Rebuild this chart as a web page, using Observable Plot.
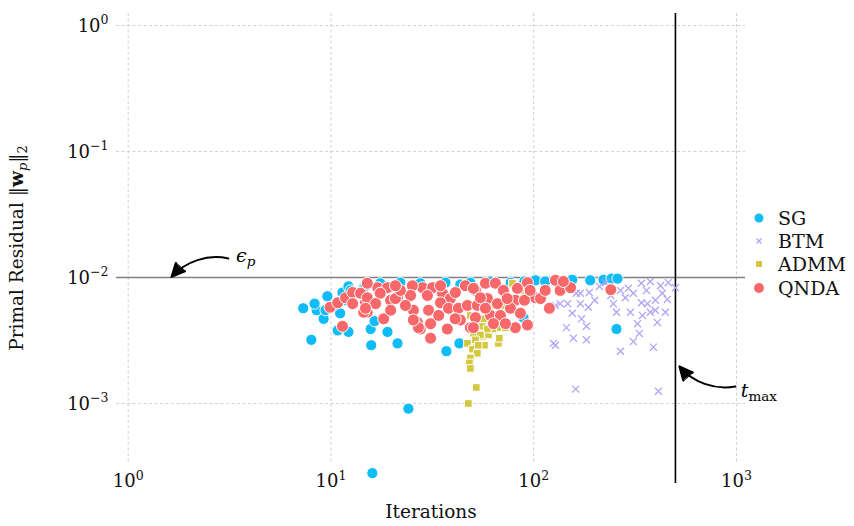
<!DOCTYPE html>
<html><head><meta charset="utf-8">
<script src="https://cdn.jsdelivr.net/npm/d3@7"></script>
<script src="https://cdn.jsdelivr.net/npm/@observablehq/plot@0.6"></script>
<style>
body{margin:0;background:#fff;}
#wrap{position:relative;width:854px;height:526px;font-family:"DejaVu Serif",serif;color:#111;}
#xlabel{position:absolute;left:0;width:862px;top:501px;text-align:center;font-size:18.5px;}
#ylabel{position:absolute;left:18px;top:248px;transform:translate(-50%,-50%) rotate(-90deg);white-space:nowrap;font-size:18.5px;}
#legend{position:absolute;left:747px;top:202px;width:107px;height:100px;background:#fff;}
.row{position:absolute;left:0;height:24px;display:flex;align-items:center;font-size:19px;}
.row svg{margin-left:6px;margin-right:13px;}
</style></head><body><div id="wrap"></div>
<script>
// ---- data ----
const sgIter = [7.3, 8.0, 8.5, 8.3, 9.2, 9.6, 11.1, 11.4, 12.2, 12.5, 10.8, 12.2, 15.7, 16.4, 19.0, 15.8, 21.3, 24.1, 16.0, 37.1, 43.0, 102, 114, 190, 221, 242, 259, 256, 89, 155, 11.8, 14.5, 9.4, 10.3, 17.5, 22, 27.6, 36.7, 48.7, 61, 77, 90, 43.5, 13.2, 14.8];
const sgRes = [0.0057, 0.0032, 0.0055, 0.0062, 0.0047, 0.0071, 0.0052, 0.0076, 0.0085, 0.0079, 0.0038, 0.0037, 0.0039, 0.0045, 0.0037, 0.0029, 0.0030, 0.00091, 0.00028, 0.0026, 0.0030, 0.0095, 0.0093, 0.0095, 0.0096, 0.0098, 0.0098, 0.0039, 0.0048, 0.0096, 0.0066, 0.0083, 0.0055, 0.0060, 0.0090, 0.0091, 0.0090, 0.0091, 0.0091, 0.0093, 0.0091, 0.0093, 0.0088, 0.0076, 0.0086];

const btmIter = [188, 162, 147, 155, 170, 172, 145, 182, 157, 182, 161, 211, 247, 256, 268, 283, 300, 310, 325, 332, 310, 268, 344, 360, 364, 376, 398, 407, 422, 431, 446, 456, 461, 500, 389, 412, 340, 398, 128, 135, 125, 170, 186, 128, 226, 340, 376, 240, 293, 200];
const btmRes = [0.0076, 0.0075, 0.0062, 0.0052, 0.0062, 0.0047, 0.0040, 0.0041, 0.0033, 0.0032, 0.0013, 0.0085, 0.0062, 0.0053, 0.0079, 0.0069, 0.0053, 0.0075, 0.0043, 0.0036, 0.0031, 0.0026, 0.0050, 0.0079, 0.0062, 0.0053, 0.0066, 0.0044, 0.0086, 0.0075, 0.0053, 0.0067, 0.0091, 0.0083, 0.0028, 0.00125, 0.0063, 0.0055, 0.0060, 0.0062, 0.0030, 0.0075, 0.0058, 0.0029, 0.0091, 0.0090, 0.0093, 0.0072, 0.0082, 0.0066];

const admmIter = [47.1, 52.1, 49.9, 52.7, 48.7, 48.2, 48.7, 52.1, 47.6, 55.9, 57.2, 67.0, 67.7, 59.8, 63.3, 68.5, 55.9, 59.1, 62.5, 72.5, 66.2, 56.5, 78.5, 76.8, 70.1, 79.4, 50.4, 54.6, 51.6, 53.3, 48.7, 61, 72.5, 86];
const admmRes = [0.0030, 0.0030, 0.0027, 0.0025, 0.0023, 0.0021, 0.0019, 0.00134, 0.0010, 0.0034, 0.0029, 0.0030, 0.0033, 0.0035, 0.0039, 0.0040, 0.0041, 0.0039, 0.0044, 0.0040, 0.0048, 0.0047, 0.0090, 0.0058, 0.0060, 0.0066, 0.0036, 0.0035, 0.0032, 0.0029, 0.0050, 0.0060, 0.0072, 0.0079];

const qndaIter = [9.9, 11.4, 10.8, 11.8, 12.8, 14.0, 14.8, 15.1, 12.8, 17.0, 19.0, 17.5, 19.7, 21.3, 18.2, 14.5, 25.5, 26.7, 27.6, 30.3, 31.0, 28.3, 31.7, 25.2, 29.9, 15.1, 16.6, 14.8, 20.8, 24.7, 35.5, 38.8, 46.0, 51.6, 34.7, 38.0, 42.5, 47.1, 27.0, 31.0, 37.5, 43.5, 48.7, 25.5, 15.1, 50.4, 57.8, 64.7, 70.9, 83.1, 93.1, 128, 135, 152, 102, 108, 52.7, 59.1, 66.2, 81.2, 51.6, 61.2, 68.5, 76.8, 86.0, 50.4, 63.3, 81.2, 93.1, 119.5, 240, 140, 22, 23.3, 20.8, 41.1, 54.6, 74, 90, 34.7, 41, 57.8, 72.5, 114, 96, 19.7, 34];
const qndaRes = [0.0058, 0.0041, 0.0063, 0.0069, 0.0076, 0.0075, 0.0063, 0.0053, 0.0062, 0.0083, 0.0083, 0.0075, 0.0066, 0.0069, 0.0047, 0.0053, 0.0055, 0.0044, 0.0039, 0.0055, 0.0033, 0.0083, 0.0083, 0.0086, 0.0072, 0.0069, 0.0062, 0.0057, 0.0068, 0.0072, 0.0075, 0.0068, 0.0086, 0.0079, 0.0063, 0.0057, 0.0057, 0.0060, 0.0040, 0.0043, 0.0039, 0.0046, 0.0040, 0.0046, 0.0090, 0.0082, 0.0090, 0.0090, 0.0079, 0.0082, 0.0091, 0.0095, 0.0079, 0.0083, 0.0069, 0.0068, 0.0060, 0.0068, 0.0062, 0.0066, 0.0048, 0.0050, 0.0050, 0.0057, 0.0052, 0.0040, 0.0043, 0.0040, 0.0042, 0.0057, 0.0080, 0.0093, 0.0079, 0.0060, 0.0086, 0.0076, 0.0069, 0.0068, 0.0066, 0.0086, 0.0047, 0.0057, 0.0043, 0.0079, 0.0079, 0.0055, 0.0050];

const xTicks = [1, 10, 100, 1000];
const yTicks = [1, 0.1, 0.01, 0.001];
const epsP = 0.01;   // tolerance line
const tMax = 500;    // iteration cap

const colors = {SG: "#0fbcf5", BTM: "#b2a4f5", ADMM: "#d4c840", QNDA: "#f8676a"};

const pts = (xs, ys) => xs.map((x, i) => ({x, y: ys[i]}));
const fmt = d => "10^" + Math.round(Math.log10(d));

const grid = {stroke: "#cfcfe0", strokeWidth: 1, strokeDasharray: "3,2.5"};

const svg = Plot.plot({
  width: 854, height: 526,
  marginLeft: 116, marginRight: 109, marginTop: 13, marginBottom: 63,
  style: {fontFamily: "DejaVu Serif, serif", fontSize: "18px", color: "#111", background: "#fff"},
  x: {type: "log", domain: [0.8756, 1108], ticks: xTicks, tickFormat: fmt, tickSize: 0, tickPadding: 11, label: null},
  y: {type: "log", domain: [3.34e-4, 1.2451], ticks: yTicks, tickFormat: fmt, tickSize: 0, tickPadding: 8, label: null},
  marks: [
    Plot.ruleX(xTicks, grid),
    Plot.ruleY(yTicks, grid),
    Plot.ruleY([epsP], {stroke: "#808080", strokeWidth: 1.6}),
    Plot.ruleX([tMax], {y1: 2.32e-4, y2: 1.2451, stroke: "#000", strokeWidth: 1.6}),
    Plot.dot(pts(sgIter, sgRes), {x: "x", y: "y", r: 5.6, fill: colors.SG, stroke: "#fff", strokeWidth: 1}),
    Plot.dot(pts(btmIter, btmRes), {x: "x", y: "y", r: 3.3, symbol: "times", stroke: colors.BTM, strokeWidth: 1.3}),
    Plot.dot(pts(admmIter, admmRes), {x: "x", y: "y", r: 4.3, symbol: "square", fill: colors.ADMM, stroke: "#fff", strokeWidth: 1}),
    Plot.dot(pts(qndaIter, qndaRes), {x: "x", y: "y", r: 6, fill: colors.QNDA, stroke: "#fff", strokeWidth: 1}),
    Plot.arrow([{x1: 3.12, y1: 0.01416, x2: 1.635, y2: 0.0101}], {x1: "x1", y1: "y1", x2: "x2", y2: "y2", bend: -30, stroke: "#000", strokeWidth: 2, headLength: 11, headAngle: 50}),
    Plot.arrow([{x1: 988, y1: 0.001365, x2: 523, y2: 0.00197}], {x1: "x1", y1: "y1", x2: "x2", y2: "y2", bend: 30, stroke: "#000", strokeWidth: 2, headLength: 11, headAngle: 50})
  ]
});
const S = d3.select(svg);

// tick labels: "10" with a real superscript exponent
S.selectAll("[aria-label='x-axis tick label'] text, [aria-label='y-axis tick label'] text").each(function () {
  const t = d3.select(this);
  const exp = t.text().split("^")[1].replace("-", "\u2212");
  t.text("10");
  t.append("tspan").attr("font-size", 12.5).attr("dy", "-0.62em").text(exp);
});
S.selectAll("[aria-label='y-axis tick label'] text").attr("dy", "0.05em");

// filled arrowheads
S.selectAll("[aria-label='arrow'] path").each(function () {
  const d = this.getAttribute("d");
  const head = d.slice(d.lastIndexOf("M")) + "Z";
  d3.select(this.parentNode).append("path").attr("d", head).attr("fill", "#000").attr("stroke", "#000").attr("stroke-width", 1).attr("stroke-linejoin", "miter");
});

const xs = svg.scale("x"), ys = svg.scale("y");
const ann = S.append("g").attr("font-family", "DejaVu Serif, serif").attr("fill", "#000").attr("text-anchor", "start");
const eps = ann.append("text").attr("x", xs.apply(3.42)).attr("y", ys.apply(0.01315)).attr("font-size", 19);
eps.append("tspan").attr("font-style", "italic").text("\u03f5");
eps.append("tspan").attr("font-style", "italic").attr("font-size", 13.5).attr("dy", 4).text("p");
const tm = ann.append("text").attr("x", xs.apply(1057)).attr("y", ys.apply(0.001116)).attr("font-size", 19);
tm.append("tspan").attr("font-style", "italic").text("t");
tm.append("tspan").attr("font-size", 13.5).attr("dy", 4).text("max");

const wrap = document.getElementById("wrap");
wrap.appendChild(svg);

const xl = document.createElement("div"); xl.id = "xlabel"; xl.textContent = "Iterations"; wrap.appendChild(xl);
const yl = document.createElement("div"); yl.id = "ylabel";
yl.innerHTML = "Primal Residual \u2016<b>w</b><sub style='font-size:13px'><i>p</i></sub>\u2016<sub style='font-size:13px'>2</sub>";
wrap.appendChild(yl);

// legend
const legendItems = ["SG", "BTM", "ADMM", "QNDA"];
const leg = document.createElement("div"); leg.id = "legend";
legendItems.forEach((name, i) => {
  const row = document.createElement("div"); row.className = "row"; row.style.top = (4 + i * 23.2) + "px";
  let sym;
  if (name === "SG") sym = `<circle cx="6" cy="6" r="4.5" fill="${colors.SG}"/>`;
  else if (name === "QNDA") sym = `<circle cx="6" cy="6" r="5" fill="${colors.QNDA}"/>`;
  else if (name === "ADMM") sym = `<rect x="3" y="3" width="6" height="6" fill="${colors.ADMM}"/>`;
  else sym = `<path d="M3.5,3.5L8.5,8.5M8.5,3.5L3.5,8.5" stroke="${colors.BTM}" stroke-width="1.4"/>`;
  row.innerHTML = `<svg width="12" height="12">${sym}</svg><span>${name}</span>`;
  leg.appendChild(row);
});
wrap.appendChild(leg);
</script>
</body></html>
